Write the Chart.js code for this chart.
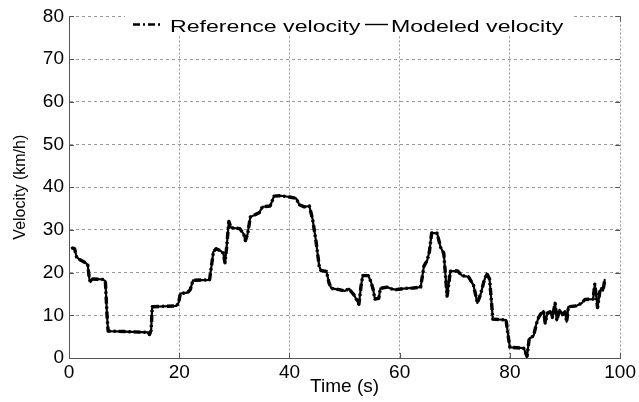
<!DOCTYPE html>
<html>
<head>
<meta charset="utf-8">
<script src="https://cdn.jsdelivr.net/npm/chart.js@4.4.1/dist/chart.umd.min.js"></script>
<style>
  html, body { margin: 0; padding: 0; background: #fff; }
</style>
</head>
<body>
<canvas id="velocityChart" width="639" height="402"></canvas>
<script>
// time (s) and velocity (km/h)
const timeS = [
  0.5, 1.0, 1.4, 2.0, 3.0, 3.4, 3.7, 3.9, 4.3, 6.1, 6.6, 6.9, 7.1, 10.0, 14.4, 14.6, 14.9, 15.1, 17.0, 19.5,
  19.9, 20.2, 21.5, 22.0, 22.5, 25.5, 25.9, 26.2, 26.7, 27.6, 28.0, 28.3, 28.6, 29.0, 29.4, 31.0, 31.7, 32.0,
  32.4, 32.9, 33.5, 34.5, 35.1, 36.5, 37.2, 38.5, 40.0, 41.2, 41.8, 42.7, 43.6, 44.2, 44.8, 45.4, 45.7, 46.7,
  47.2, 47.6, 49.0, 50.0, 50.8, 51.7, 52.6, 53.0, 53.3, 54.3, 54.8, 55.2, 55.5, 56.2, 56.5, 57.7, 58.5, 59.3,
  61.1, 62.5, 63.8, 64.4, 65.0, 65.4, 65.8, 66.8, 67.4, 68.0, 68.3, 68.6, 69.2, 70.5, 71.3, 72.5, 73.4, 74.1,
  74.7, 75.3, 75.8, 76.3, 76.6, 76.9, 79.3, 79.7, 80.0, 82.5, 83.1, 83.5, 84.3, 84.8, 85.2, 85.6, 86.1, 86.4,
  86.8, 87.3, 87.7, 88.2, 88.5, 89.0, 89.5, 90.0, 90.3, 90.6, 92.0, 93.0, 93.6, 95.1, 95.4, 95.7, 95.9, 96.3,
  96.6, 96.9, 97.2
];
const referenceVelocity = [
  25.8, 25.6, 23.6, 23.0, 22.3, 21.8, 18.5, 17.8, 18.5, 18.4, 18.0, 10.0, 6.3, 6.2, 6.0, 5.5, 6.5, 12.0, 12.1, 12.2,
  13.0, 15.1, 15.3, 16.0, 18.2, 18.3, 22.0, 24.9, 25.6, 25.0, 24.5, 22.3, 25.9, 32.0, 30.5, 30.3, 29.0, 27.5,
  29.0, 33.0, 33.4, 34.0, 35.4, 35.6, 37.9, 38.0, 37.7, 37.4, 35.9, 35.4, 35.6, 32.5, 27.5, 21.5, 20.5, 20.3,
  17.5, 16.3, 16.0, 15.7, 16.2, 14.8, 12.6, 17.0, 19.3, 19.3, 17.8, 16.0, 13.8, 14.0, 16.3, 16.6, 16.2, 16.0,
  16.3, 16.4, 16.6, 21.5, 22.9, 25.0, 29.3, 29.2, 26.0, 24.5, 19.5, 14.5, 20.3, 20.4, 19.3, 19.0, 17.0, 12.9,
  15.0, 18.0, 19.8, 18.5, 14.0, 9.1, 8.9, 5.0, 2.5, 2.3, 0.4, 4.5, 5.2, 8.0, 9.5, 10.3, 11.0, 8.2,
  10.5, 10.8, 9.5, 12.8, 8.8, 11.3, 10.0, 10.8, 8.5, 12.0, 12.2, 12.8, 13.7, 13.8, 17.3, 14.0, 11.8, 15.5,
  16.4, 15.8, 18.3
];
// the modeled curve lies on top of the reference one at this scale
const modeledVelocity = [...referenceVelocity];

const seriesNames = ['Reference velocity', 'Modeled velocity'];
const xTickStep = 20;
const yTickStep = 10;

const FONT = "'Liberation Sans', Arial, sans-serif";

function toPoints(values) {
  return timeS.map((t, i) => ({ x: t, y: values[i] }));
}

const matlabDecor = {
  id: 'matlabDecor',
  afterDraw(chart) {
    const { ctx, chartArea: a, scales } = chart;
    ctx.save();
    // inside tick marks on all four sides
    ctx.strokeStyle = '#555';
    ctx.lineWidth = 1;
    ctx.beginPath();
    scales.x.ticks.forEach(tk => {
      const px = Math.round(scales.x.getPixelForValue(tk.value)) + 0.5;
      ctx.moveTo(px, a.bottom); ctx.lineTo(px, a.bottom - 5);
      ctx.moveTo(px, a.top); ctx.lineTo(px, a.top + 5);
    });
    scales.y.ticks.forEach(tk => {
      const py = Math.round(scales.y.getPixelForValue(tk.value)) + 0.5;
      ctx.moveTo(a.left, py); ctx.lineTo(a.left + 5, py);
      ctx.moveTo(a.right, py); ctx.lineTo(a.right - 5, py);
    });
    ctx.stroke();

    // legend, inside the axes at the top
    ctx.fillStyle = '#fff';
    ctx.fillRect(125, 13, 447, 23);
    const ds = chart.data.datasets;
    const ly = 24.5;
    const items = [
      { x0: 133, x1: 162, tx: 170, w: 2.6 },
      { x0: 365, x1: 388, tx: 391, w: 1.4 }
    ];
    items.forEach((it, i) => {
      ctx.strokeStyle = ds[i].borderColor;
      ctx.lineWidth = it.w;
      ctx.setLineDash(ds[i].borderDash || []);
      ctx.beginPath();
      ctx.moveTo(it.x0, ly); ctx.lineTo(it.x1, ly);
      ctx.stroke();
      ctx.setLineDash([]);
      ctx.save();
      ctx.translate(it.tx, 31.5);
      ctx.scale(1.36, 1);
      ctx.font = '17px ' + FONT;
      ctx.fillStyle = '#000';
      ctx.textBaseline = 'alphabetic';
      ctx.fillText(ds[i].label, 0, 0);
      ctx.restore();
    });
    ctx.restore();
  }
};

new Chart(document.getElementById('velocityChart'), {
  type: 'line',
  data: {
    datasets: [
      { label: seriesNames[0], data: toPoints(referenceVelocity), borderColor: '#000', borderWidth: 3.4, borderDash: [7, 3, 2, 3], borderJoinStyle: 'round', pointRadius: 0, tension: 0 },
      { label: seriesNames[1], data: toPoints(modeledVelocity), borderColor: '#000', borderWidth: 2.2, borderJoinStyle: 'round', borderCapStyle: 'round', pointRadius: 0, tension: 0 }
    ]
  },
  options: {
    responsive: false,
    animation: false,
    devicePixelRatio: 1,
    layout: { padding: { left: 0, right: 18, top: 12, bottom: 0 } },
    plugins: { legend: { display: false }, tooltip: { enabled: false } },
    scales: {
      x: {
        type: 'linear', min: 0, max: 100,
        ticks: { stepSize: xTickStep, color: '#000', font: { family: FONT, size: 19 }, padding: 3, maxRotation: 0 },
        grid: { color: '#999', drawTicks: false },
        border: { display: true, color: '#555', width: 1, dash: [2, 2] },
        title: { display: true, text: 'Time (s)', color: '#000', font: { family: FONT, size: 19 }, padding: { top: 0, bottom: 4 } },
        afterFit(scale) { scale.height = 44; }
      },
      y: {
        min: 0, max: 80,
        ticks: { stepSize: yTickStep, color: '#000', font: { family: FONT, size: 19 }, padding: 5 },
        grid: { color: '#999', drawTicks: false },
        border: { display: true, color: '#555', width: 1, dash: [3, 3] },
        title: { display: true, text: 'Velocity (km/h)', color: '#000', font: { family: FONT, size: 16 }, padding: { top: 11, bottom: 0 } },
        afterFit(scale) { scale.width = 69; }
      }
    }
  },
  plugins: [matlabDecor]
});
</script>
</body>
</html>
